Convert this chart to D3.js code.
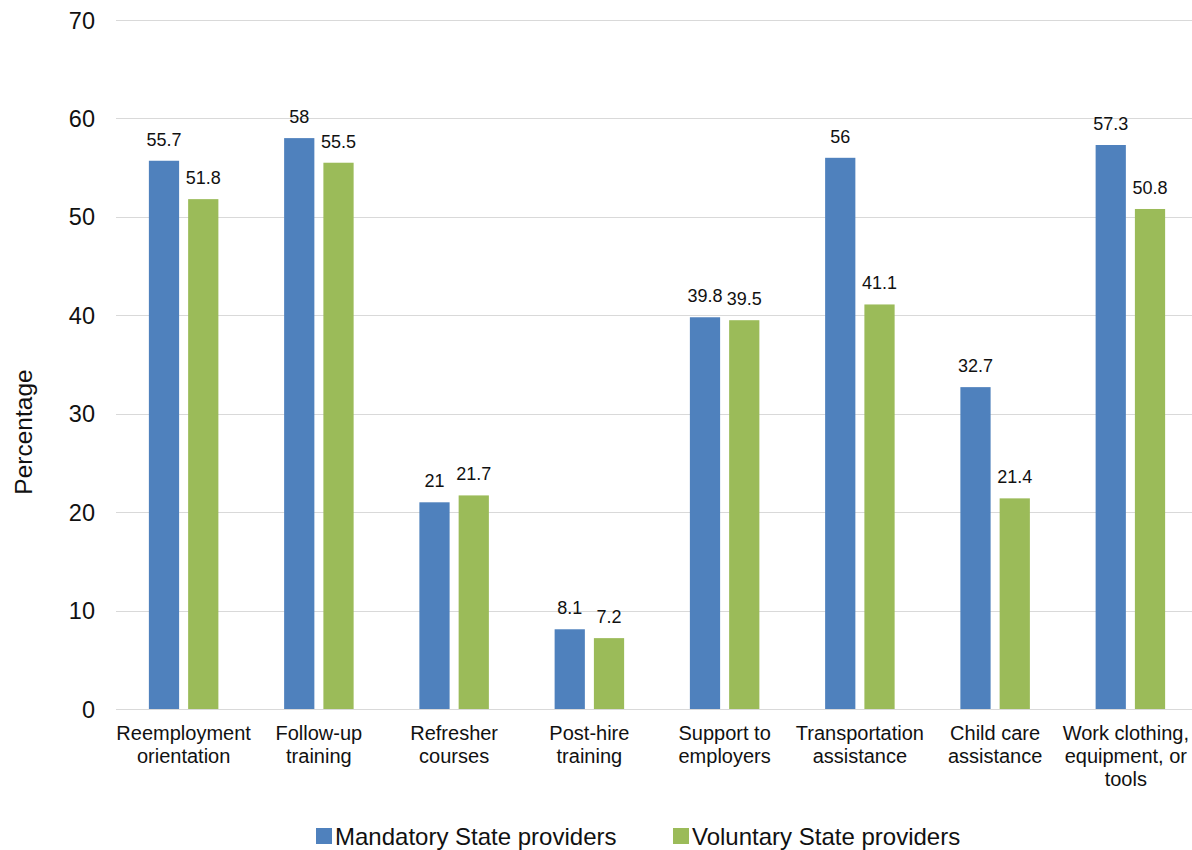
<!DOCTYPE html>
<html>
<head>
<meta charset="utf-8">
<script src="https://cdn.jsdelivr.net/npm/d3@7"></script>
<style>
  html, body { margin: 0; padding: 0; background: #fff; }
  svg { display: block; font-family: "Liberation Sans", Arial, sans-serif; }
</style>
</head>
<body>
<svg id="chart" width="1192" height="850"></svg>
<script>
// Share of State providers offering each service (%)
const categories = [
  ["Reemployment", "orientation"],
  ["Follow-up", "training"],
  ["Refresher", "courses"],
  ["Post-hire", "training"],
  ["Support to", "employers"],
  ["Transportation", "assistance"],
  ["Child care", "assistance"],
  ["Work clothing,", "equipment, or", "tools"]
];
const seriesNames = ["Mandatory State providers", "Voluntary State providers"];
const mandatory = [55.7, 58, 21, 8.1, 39.8, 56, 32.7, 57.3];
const voluntary = [51.8, 55.5, 21.7, 7.2, 39.5, 41.1, 21.4, 50.8];
const yTicks = [0, 10, 20, 30, 40, 50, 60, 70];
const colors = ["#4F81BD", "#9BBB59"];
const textColor = "#111";

const W = 1192;
const svg = d3.select("#chart");
const plotL = 116, plotR = 1198, plotT = 20, plotB = 709;

const x0 = d3.scaleBand()
  .domain(d3.range(categories.length))
  .range([plotL, plotR])
  .paddingInner(0).paddingOuter(0);

const groupW = 69.5;
const x1 = d3.scaleBand()
  .domain([0, 1])
  .range([0, groupW])
  .paddingInner(0.23);

const y = d3.scaleLinear().domain([0, 70]).range([plotB, plotT]);

// gridlines
svg.append("g").selectAll("line")
  .data(yTicks)
  .join("line")
  .attr("x1", plotL).attr("x2", plotR)
  .attr("y1", d => Math.round(y(d)) + 0.5)
  .attr("y2", d => Math.round(y(d)) + 0.5)
  .attr("stroke", "#d9d9d9")
  .attr("stroke-width", 1);

// y tick labels
svg.append("g").selectAll("text")
  .data(yTicks)
  .join("text")
  .attr("x", 95)
  .attr("y", d => y(d) + 8.5)
  .attr("text-anchor", "end")
  .attr("font-size", 23.5)
  .attr("fill", textColor)
  .text(d => d);

// y axis title
svg.append("text")
  .attr("transform", "translate(32,432) rotate(-90)")
  .attr("text-anchor", "middle")
  .attr("font-size", 24.5)
  .attr("fill", textColor)
  .text("Percentage");

const data = categories.map((c, i) => ({ i, vals: [mandatory[i], voluntary[i]] }));

const groups = svg.append("g").selectAll("g")
  .data(data)
  .join("g")
  .attr("transform", d => `translate(${x0(d.i) + (x0.bandwidth() - groupW) / 2},0)`);

groups.selectAll("rect")
  .data(d => d.vals.map((v, s) => ({ v, s })))
  .join("rect")
  .attr("x", d => x1(d.s))
  .attr("width", x1.bandwidth())
  .attr("y", d => y(d.v))
  .attr("height", d => y(0) - y(d.v))
  .attr("fill", d => colors[d.s]);

groups.selectAll("text.val")
  .data(d => d.vals.map((v, s) => ({ v, s })))
  .join("text")
  .attr("class", "val")
  .attr("x", d => x1(d.s) + x1.bandwidth() / 2)
  .attr("y", d => y(d.v) - 15)
  .attr("text-anchor", "middle")
  .attr("font-size", 18)
  .attr("fill", textColor)
  .text(d => d.v);

// category labels (kept inside the right edge of the canvas)
const catG = svg.append("g").selectAll("text")
  .data(categories)
  .join("text")
  .attr("y", 740)
  .attr("text-anchor", "middle")
  .attr("font-size", 20)
  .attr("fill", textColor);
catG.selectAll("tspan")
  .data(d => d)
  .join("tspan")
  .attr("dy", (d, j) => j === 0 ? 0 : 23)
  .text(d => d);
catG.each(function(d, i) {
  const t = d3.select(this);
  let cx = x0(i) + x0.bandwidth() / 2;
  let maxW = 0;
  t.selectAll("tspan").each(function() { maxW = Math.max(maxW, this.getComputedTextLength()); });
  cx = Math.min(cx, W - 3 - maxW / 2);
  t.attr("x", cx);
  t.selectAll("tspan").attr("x", cx);
});

// legend
const legendX = [316, 673];
const leg = svg.append("g").selectAll("g")
  .data(seriesNames)
  .join("g")
  .attr("transform", (d, i) => `translate(${legendX[i]},0)`);
leg.append("rect")
  .attr("x", 0).attr("y", 828)
  .attr("width", 16).attr("height", 16)
  .attr("fill", (d, i) => colors[i]);
leg.append("text")
  .attr("x", 19).attr("y", 845)
  .attr("font-size", 24)
  .attr("fill", textColor)
  .text(d => d);
</script>
</body>
</html>
